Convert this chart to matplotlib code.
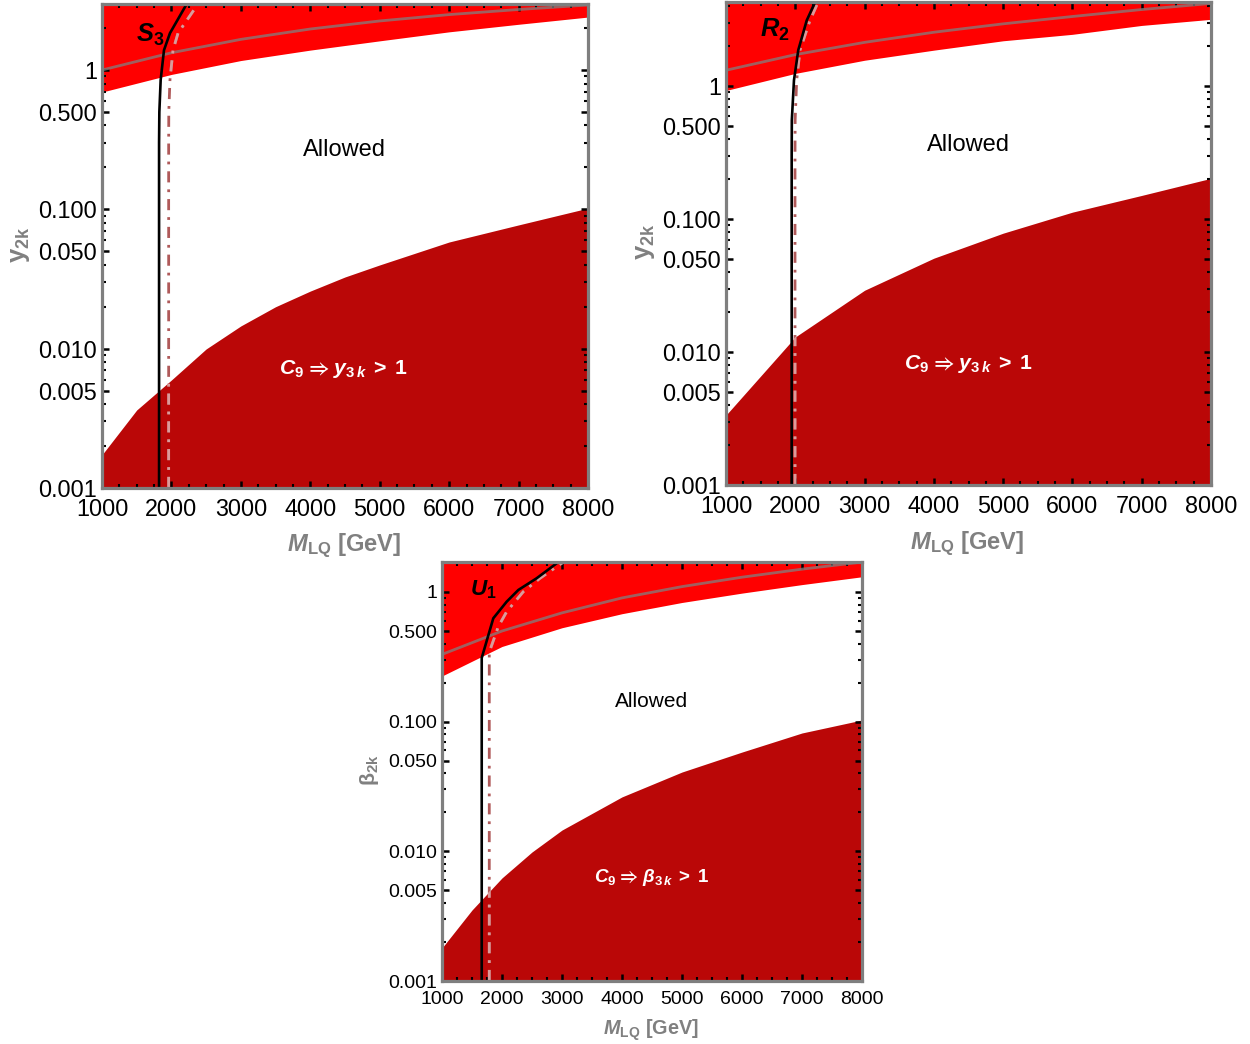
import numpy as np
import matplotlib
matplotlib.use("Agg")
import matplotlib.pyplot as plt
from matplotlib.ticker import FixedLocator, FixedFormatter, MultipleLocator, LogLocator, NullFormatter

plt.rcParams['font.family'] = ['Liberation Sans', 'DejaVu Sans']
plt.rcParams['mathtext.fontset'] = 'custom'
plt.rcParams['mathtext.rm'] = 'Liberation Sans'
plt.rcParams['mathtext.it'] = 'Liberation Sans:italic'
plt.rcParams['mathtext.bf'] = 'Liberation Sans:bold'
plt.rcParams['mathtext.bfit'] = 'Liberation Sans:bold:italic'
plt.rcParams['mathtext.fallback'] = 'stixsans'

# leptoquark mass grid (GeV) for the perturbativity / gray curves
m_grid = [1000, 2000, 3000, 4000, 5000, 6000, 7000, 8000]

# S3 scalar
s3_upper = [0.695, 0.93, 1.17, 1.39, 1.62, 1.88, 2.13, 2.40]
s3_gray = [1.0, 1.33, 1.66, 1.97, 2.25, 2.50, 2.72, 2.93]
s3_c9_m = [1000, 1500, 2000, 2500, 3000, 3500, 4000, 4500, 5000, 6000, 7000, 8000]
s3_c9 = [0.00173, 0.00363, 0.00596, 0.00995, 0.01456, 0.0200, 0.0259, 0.0327,
         0.0399, 0.0583, 0.0773, 0.102]
s3_black_m = [1822, 1822, 1826, 1845, 1893, 1979, 2220]
s3_black_y = [0.001, 0.30, 0.50, 0.85, 1.39, 1.84, 2.98]
s3_dash_m = [1960, 1960, 1962, 1979, 2023, 2095, 2383]
s3_dash_y = [0.001, 0.30, 0.50, 0.85, 1.39, 1.84, 2.98]

# R2 scalar
r2_upper = [0.93, 1.25, 1.57, 1.87, 2.20, 2.46, 2.87, 3.19]
r2_gray = [1.32, 1.73, 2.14, 2.55, 2.95, 3.35, 3.78, 4.20]
r2_c9_m = [1000, 2000, 3000, 4000, 5000, 6000, 7000, 8000]
r2_c9 = [0.00336, 0.0130, 0.0292, 0.0509, 0.0785, 0.113, 0.151, 0.203]
r2_black_m = [1948, 1948, 1950, 1981, 2043, 2165, 2285]
r2_black_y = [0.001, 0.30, 0.555, 1.11, 1.87, 3.13, 4.28]
r2_dash_m = [1996, 1996, 1998, 2020, 2068, 2212, 2328]
r2_dash_y = [0.001, 0.30, 0.555, 1.11, 1.87, 3.13, 4.28]

# U1 vector
u1_upper = [0.225, 0.38, 0.53, 0.68, 0.83, 0.98, 1.14, 1.31]
u1_gray = [0.33, 0.50, 0.69, 0.90, 1.10, 1.30, 1.50, 1.70]
u1_c9_m = [1000, 1500, 2000, 2500, 3000, 4000, 5000, 6000, 7000, 8000]
u1_c9 = [0.0018, 0.00353, 0.00624, 0.00989, 0.0146, 0.0263, 0.0409, 0.0583, 0.0818, 0.103]
u1_black_m = [1662, 1662, 1855, 2078, 2272, 2578, 2938]
u1_black_y = [0.001, 0.31, 0.627, 0.842, 1.036, 1.276, 1.70]
u1_dash_m = [1788, 1788, 1938, 2078, 2355, 2633, 3022]
u1_dash_y = [0.001, 0.344, 0.54, 0.705, 1.005, 1.275, 1.70]

ytick_vals = [0.001, 0.005, 0.01, 0.05, 0.1, 0.5, 1]
ytick_labels = ["0.001", "0.005", "0.010", "0.050", "0.100", "0.500", "1"]
xtick_vals = [1000, 2000, 3000, 4000, 5000, 6000, 7000, 8000]

RED = "#ff0000"
DARK = "#ba0707"
GRAY = "#7f7f7f"
DASH = (0, (4, 2.5, 1, 2.5))


def draw_panel(ax, ymax, upper, gray, c9_m, c9, bm, by, dm, dy,
               name, ylab, c9_text, fs, fs_text, name_xy, allowed_xy, c9_xy,
               ylab_x, xlab_y):
    ax.set_yscale("log")
    ax.set_xlim(1000, 8000)
    ax.set_ylim(0.001, ymax)

    top = ax.fill_between(m_grid, upper, ymax, color=RED, lw=0, zorder=1)
    bot = ax.fill_between(c9_m, 0.001, c9, color=DARK, lw=0, zorder=1)

    ax.plot(m_grid, gray, color="#808080", alpha=0.75, lw=2.0, zorder=2)

    # dot-dashed curve, lighter where it crosses the excluded regions
    ax.plot(dm, dy, color="#b05a5a", lw=2.0, ls=DASH, zorder=3)
    for coll in (top, bot):
        ln, = ax.plot(dm, dy, color="#dc9a9a", lw=2.0, ls=DASH, zorder=3)
        ln.set_clip_path(coll.get_paths()[0], ax.transData)

    ax.plot(bm, by, color="black", lw=1.9, zorder=4)

    ax.text(*name_xy, name, transform=ax.transAxes, fontsize=fs_text * 1.08,
            ha="center", va="center", zorder=5)
    ax.text(*allowed_xy, "Allowed", transform=ax.transAxes, fontsize=fs_text,
            ha="center", va="center", zorder=5)
    ax.text(*c9_xy, c9_text, transform=ax.transAxes, fontsize=fs_text * 0.9,
            color="white", ha="center", va="center", zorder=5)

    ax.xaxis.set_major_locator(FixedLocator(xtick_vals))
    ax.xaxis.set_minor_locator(MultipleLocator(250))
    ax.yaxis.set_major_locator(FixedLocator(ytick_vals))
    ax.yaxis.set_major_formatter(FixedFormatter(ytick_labels))
    ax.yaxis.set_minor_locator(LogLocator(base=10, subs=(2, 3, 4, 6, 7, 8, 9)))
    ax.yaxis.set_minor_formatter(NullFormatter())
    ax.tick_params(which="both", direction="in", top=True, right=True,
                   color="black", labelsize=fs, zorder=6)
    ax.tick_params(which="major", length=5, width=1.8)
    ax.tick_params(which="minor", length=3, width=1.5)
    ax.tick_params(axis="x", pad=7.5)
    ax.tick_params(axis="y", pad=3.5)
    for sp in ax.spines.values():
        sp.set_color(GRAY)
        sp.set_linewidth(2.3)
        sp.set_zorder(5)

    ax.set_xlabel(r"$\mathbfit{M}_{\mathbf{LQ}}$ [GeV]", fontsize=fs * 1.02,
                  color="#808080", fontweight="bold")
    ax.xaxis.set_label_coords(0.498, xlab_y)
    ax.set_ylabel(ylab, fontsize=fs * 1.1, color="#808080", fontweight="bold")
    ax.yaxis.set_label_coords(ylab_x, 0.503)


fig = plt.figure(figsize=(12.5, 10.44), dpi=100)
ax1 = fig.add_axes([0.0816, 0.5326, 0.3888, 0.4636])
ax2 = fig.add_axes([0.5808, 0.5354, 0.3880, 0.4626])
ax3 = fig.add_axes([0.3536, 0.0603, 0.3360, 0.4013])

c9_y = r"$\mathbfit{C}_{\mathbf{9}}\;\mathbf{⇒}\;\mathbfit{y}_{\mathbf{3}\,\mathbfit{k}}\;\mathbf{>}\;\mathbf{1}$"
c9_beta = r"$\mathbfit{C}_{\mathbf{9}}\;\mathbf{⇒}\;\mathbfit{β}_{\mathbf{3}\,\mathbfit{k}}\;\mathbf{>}\;\mathbf{1}$"

draw_panel(ax1, 2.98, s3_upper, s3_gray, s3_c9_m, s3_c9,
           s3_black_m, s3_black_y, s3_dash_m, s3_dash_y,
           r"$\mathbfit{S}_{\mathbf{3}}$", r"y$_{\mathbf{2k}}$", c9_y,
           16.8, 17.0, (0.099, 0.936), (0.498, 0.698), (0.496, 0.246), -0.144, -0.091)

draw_panel(ax2, 4.3, r2_upper, r2_gray, r2_c9_m, r2_c9,
           r2_black_m, r2_black_y, r2_dash_m, r2_dash_y,
           r"$\mathbfit{R}_{\mathbf{2}}$", r"y$_{\mathbf{2k}}$", c9_y,
           16.8, 17.0, (0.101, 0.942), (0.499, 0.704), (0.499, 0.250), -0.142, -0.093)

draw_panel(ax3, 1.70, u1_upper, u1_gray, u1_c9_m, u1_c9,
           u1_black_m, u1_black_y, u1_dash_m, u1_dash_y,
           r"$\mathbfit{U}_{\mathbf{1}}$", r"β$_{\mathbf{2k}}$", c9_beta,
           14.0, 15.0, (0.098, 0.933), (0.498, 0.668), (0.498, 0.246), -0.145, -0.088)

fig.savefig("out.png", dpi=100)
